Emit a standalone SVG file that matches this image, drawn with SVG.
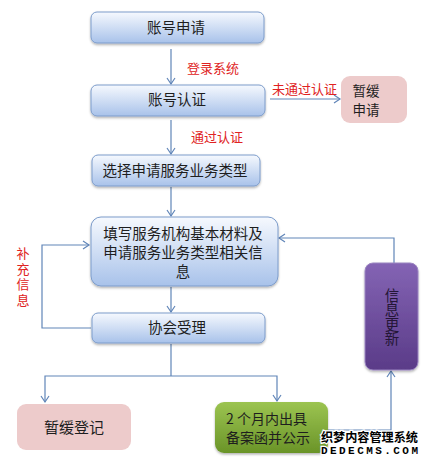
<svg xmlns="http://www.w3.org/2000/svg" width="429" height="464" viewBox="0 0 429 464">
<defs>
  <linearGradient id="gBlue" x1="0" y1="0" x2="0" y2="1">
    <stop offset="0" stop-color="#F6F9FE"/>
    <stop offset="1" stop-color="#A8C2EA"/>
  </linearGradient>
  <linearGradient id="gGreen" x1="0" y1="0" x2="0" y2="1">
    <stop offset="0" stop-color="#9CC451"/>
    <stop offset="1" stop-color="#6A9428"/>
  </linearGradient>
  <linearGradient id="gPurple" x1="0" y1="0" x2="0" y2="1">
    <stop offset="0" stop-color="#8464B4"/>
    <stop offset="1" stop-color="#5A3B88"/>
  </linearGradient>
  <filter id="shadow" x="-10%" y="-10%" width="120%" height="130%">
    <feDropShadow dx="0" dy="1.5" stdDeviation="1" flood-color="#000" flood-opacity="0.3"/>
  </filter>
  <marker id="arr" markerUnits="userSpaceOnUse" markerWidth="12" markerHeight="12" refX="7" refY="5" orient="auto">
    <path d="M1,1 L7,5 L1,9" fill="none" stroke="#6085B8" stroke-width="1.2"/>
  </marker>
</defs>
<style>
  .blue { fill: url(#gBlue); stroke: #7C9CCB; stroke-width: 1; filter: url(#shadow); }
  .pink { fill: #EDCBCB; stroke: none; }
  .t { font-family: "Noto Sans CJK SC", "Liberation Sans", sans-serif; font-size: 14.5px; fill: #1E1E1E; }
  .c { text-anchor: middle; }
  .red { font-family: "Noto Sans CJK SC", "Liberation Sans", sans-serif; font-size: 13px; fill: #E02222; }
  .vert { writing-mode: vertical-rl; text-orientation: upright; }
  .con { fill: none; stroke: #6085B8; stroke-width: 1.2; }
  .wm { font-weight: bold; fill: #000; stroke: #FFF; stroke-width: 2.5; paint-order: stroke; }
</style>
<rect width="429" height="464" fill="#FFFFFF"/>

<g id="connectors">
  <path class="con" d="M171,49 L171,84" marker-end="url(#arr)"/>
  <path class="con" d="M171,120 L171,154" marker-end="url(#arr)"/>
  <path class="con" d="M270,99 L340,99" marker-end="url(#arr)"/>
  <path class="con" d="M171,187 L171,216" marker-end="url(#arr)"/>
  <path class="con" d="M171,287 L171,312" marker-end="url(#arr)"/>
  <path class="con" d="M91,328 L42,328 L42,245 L89,245" marker-end="url(#arr)"/>
  <path class="con" d="M171,344 L171,376"/>
  <path class="con" d="M171,376 L45,376 L45,402" marker-end="url(#arr)"/>
  <path class="con" d="M171,376 L277,376 L277,401" marker-end="url(#arr)"/>
  <path class="con" d="M328,430 L391,430 L391,371" marker-end="url(#arr)"/>
  <path class="con" d="M394,263 L394,238 L279,238" marker-end="url(#arr)"/>
  <text class="red" x="187" y="73">登录系统</text>
  <text class="red" x="191" y="142">通过认证</text>
  <text class="red" x="272" y="94">未通过认证</text>
  <text class="red vert" x="23" y="247" style="letter-spacing:2.5px">补充信息</text>
</g>

<g id="n1">
  <rect class="blue" x="91" y="12" width="173" height="31" rx="6"/>
  <text class="t c" x="176" y="33">账号申请</text>
</g>
<g id="n2">
  <rect class="blue" x="91" y="85" width="174" height="31" rx="6"/>
  <text class="t c" x="177" y="105">账号认证</text>
</g>
<g id="n3">
  <rect class="pink" x="341" y="76" width="66" height="47" rx="9"/>
  <text class="t c" style="font-size:13.5px"><tspan x="366" y="96">暂缓</tspan><tspan x="366" y="115">申请</tspan></text>
</g>
<g id="n4">
  <rect class="blue" x="92" y="155" width="168" height="31" rx="6"/>
  <text class="t c" x="175" y="176">选择申请服务业务类型</text>
</g>
<g id="n5">
  <rect class="blue" x="91" y="217" width="187" height="69" rx="10"/>
  <text class="t c"><tspan x="183" y="239">填写服务机构基本材料及</tspan><tspan x="183" y="258">申请服务业务类型相关信</tspan><tspan x="183" y="277">息</tspan></text>
</g>
<g id="n6">
  <rect class="blue" x="92" y="313" width="173" height="30" rx="6"/>
  <text class="t c" x="177" y="333">协会受理</text>
</g>
<g id="n7">
  <rect class="pink" x="17" y="404" width="114" height="46" rx="9"/>
  <text class="t c" x="74" y="433" style="font-size:15px">暂缓登记</text>
</g>
<g id="n8">
  <rect x="215" y="402" width="113" height="51" rx="9" fill="url(#gGreen)" filter="url(#shadow)"/>
  <text class="t" style="font-size:14px"><tspan x="226" y="424">2 个月内出具</tspan><tspan x="226" y="443">备案函并公示</tspan></text>
</g>
<g id="n9">
  <rect x="365" y="263" width="53" height="107" rx="8" fill="url(#gPurple)" stroke="#9A84C0" stroke-width="1" filter="url(#shadow)"/>
  <text class="t vert" x="392" y="288" style="fill:#241636">信息更新</text>
</g>

<g id="watermark">
  <text class="wm"><tspan x="321" y="442" textLength="97" lengthAdjust="spacingAndGlyphs" style="font-family:'Noto Sans CJK SC','Liberation Sans',sans-serif;font-size:12.5px">织梦内容管理系统</tspan><tspan x="321" y="454" textLength="97" lengthAdjust="spacing" style="font-family:'Liberation Mono',monospace;font-size:11px">DEDECMS.COM</tspan></text>
</g>
</svg>
